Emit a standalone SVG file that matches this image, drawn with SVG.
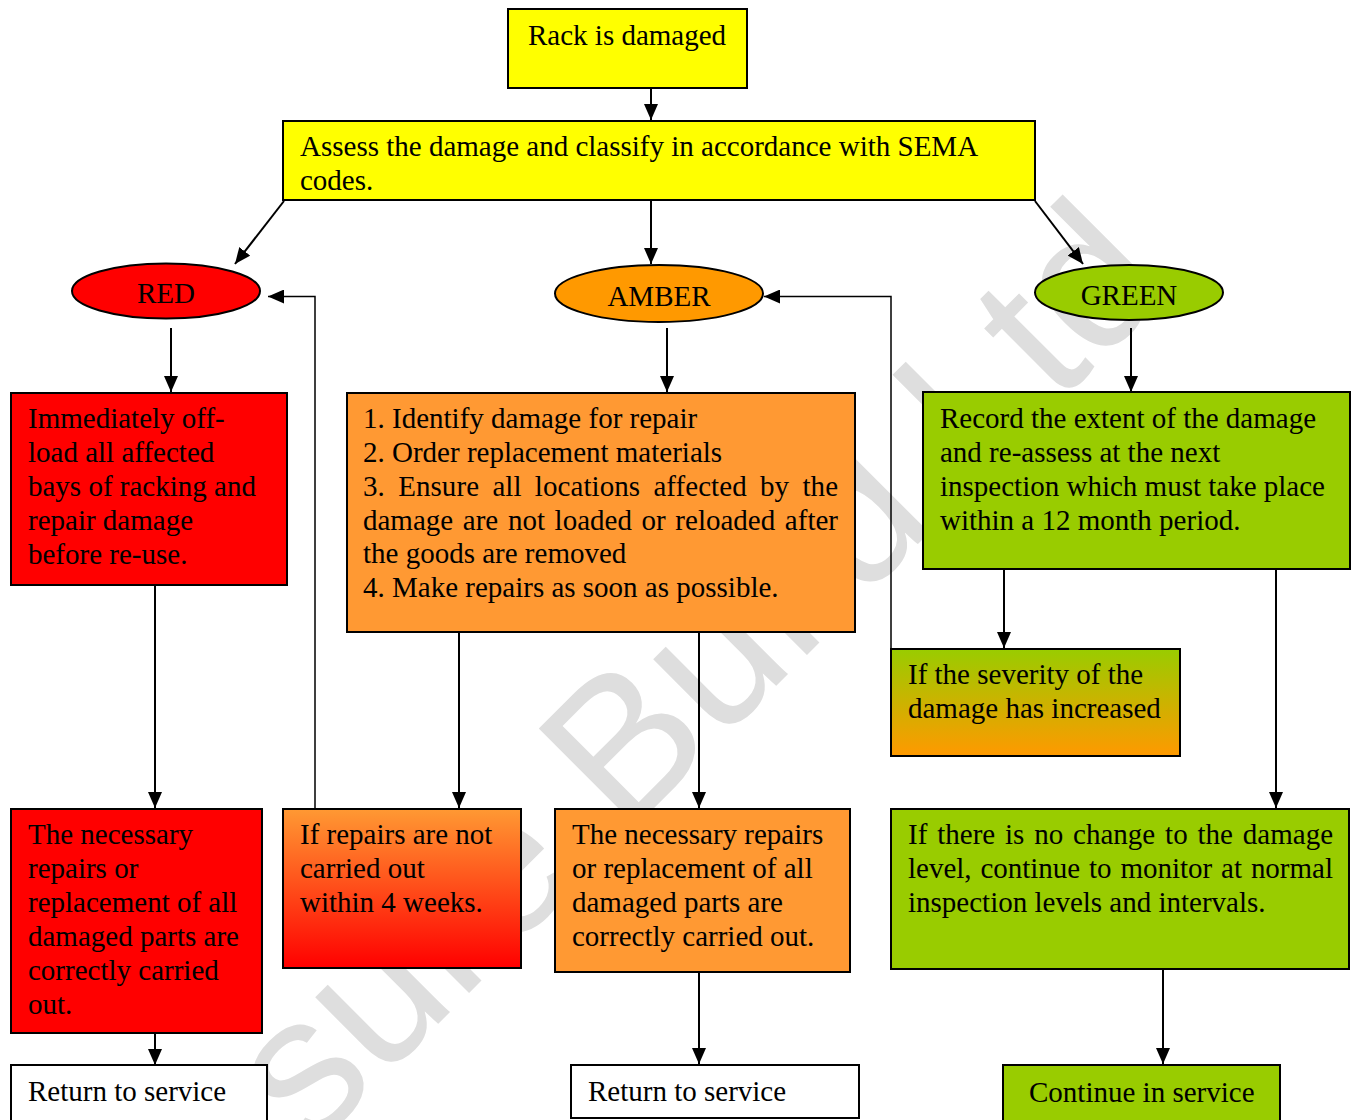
<svg xmlns="http://www.w3.org/2000/svg" width="1351" height="1120" viewBox="0 0 1351 1120">
<style>
.bg{fill:#ffffff}
.wm{font-family:"Liberation Sans",Arial,sans-serif;font-size:200px;fill:#dedede}
.box{stroke:#000;stroke-width:2}
.yel{fill:#ffff00}
.red{fill:#ff0000}
.amb{fill:#ff9933}
.ambE{fill:#ff9900}
.grn{fill:#99cc00}
.wht{fill:#ffffff}
.t{font-family:"Liberation Serif","Times New Roman",serif;font-size:29px;fill:#000}
.c{text-anchor:middle}
.ln{fill:none;stroke:#000;stroke-width:2}
.ln2{fill:none;stroke:#000;stroke-width:1.5}
</style>
<defs>
<marker id="arr" viewBox="0 0 16 14" refX="16" refY="7" markerWidth="16" markerHeight="14" markerUnits="userSpaceOnUse" orient="auto">
<path d="M0,0 L16,7 L0,14 z" fill="#000"/>
</marker>
<linearGradient id="gOR" x1="0" y1="0" x2="0" y2="1">
<stop offset="0" stop-color="#ff9933"/>
<stop offset="1" stop-color="#ff0000"/>
</linearGradient>
<linearGradient id="gGO" x1="0" y1="0" x2="0" y2="1">
<stop offset="0" stop-color="#99cc00"/>
<stop offset="1" stop-color="#ff9900"/>
</linearGradient>
</defs>
<rect class="bg" x="0" y="0" width="1351" height="1120"/>
<text class="wm" transform="translate(310,1152) rotate(-45)">sure Build Ltd</text>

<g id="connectors">
<line class="ln" x1="651" y1="88" x2="651" y2="120" marker-end="url(#arr)"/>
<line class="ln" x1="284" y1="201" x2="235" y2="264" marker-end="url(#arr)"/>
<line class="ln" x1="651" y1="200" x2="651" y2="264" marker-end="url(#arr)"/>
<line class="ln" x1="1035" y1="201" x2="1083" y2="264" marker-end="url(#arr)"/>
<line class="ln" x1="171" y1="328" x2="171" y2="392" marker-end="url(#arr)"/>
<line class="ln" x1="667" y1="328" x2="667" y2="392" marker-end="url(#arr)"/>
<line class="ln" x1="1131" y1="328" x2="1131" y2="392" marker-end="url(#arr)"/>
<line class="ln" x1="155" y1="585" x2="155" y2="808" marker-end="url(#arr)"/>
<line class="ln" x1="155" y1="1033" x2="155" y2="1065" marker-end="url(#arr)"/>
<line class="ln" x1="459" y1="632" x2="459" y2="808" marker-end="url(#arr)"/>
<line class="ln" x1="699" y1="632" x2="699" y2="808" marker-end="url(#arr)"/>
<line class="ln" x1="699" y1="972" x2="699" y2="1064" marker-end="url(#arr)"/>
<line class="ln" x1="1004" y1="569" x2="1004" y2="648" marker-end="url(#arr)"/>
<line class="ln" x1="1276" y1="569" x2="1276" y2="808" marker-end="url(#arr)"/>
<line class="ln" x1="1163" y1="969" x2="1163" y2="1064" marker-end="url(#arr)"/>
<polyline class="ln2" points="315,809 315,296.5 268,296.5" marker-end="url(#arr)"/>
<polyline class="ln2" points="891,649 891,296.5 764,296.5" marker-end="url(#arr)"/>
</g>

<g id="n-rack">
<rect class="box yel" x="508" y="9" width="239" height="79"/>
<text class="t" x="528" y="45">Rack is damaged</text>
</g>

<g id="n-assess">
<rect class="box yel" x="283" y="121" width="752" height="79"/>
<text class="t" x="300" y="156">Assess the damage and classify in accordance with SEMA</text>
<text class="t" x="300" y="190">codes.</text>
</g>

<g id="n-red">
<ellipse class="box red" cx="166" cy="291" rx="94" ry="27.5"/>
<text class="t c" x="166" y="303">RED</text>
</g>

<g id="n-amber">
<ellipse class="box ambE" cx="659" cy="293.5" rx="104" ry="28.5"/>
<text class="t c" x="659" y="306">AMBER</text>
</g>

<g id="n-green">
<ellipse class="box grn" cx="1129" cy="292.5" rx="94" ry="27.5"/>
<text class="t c" x="1129" y="305">GREEN</text>
</g>

<g id="n-red-offload">
<rect class="box red" x="11" y="393" width="276" height="192"/>
<text class="t" x="28" y="428">Immediately off-</text>
<text class="t" x="28" y="462">load all affected</text>
<text class="t" x="28" y="496">bays of racking and</text>
<text class="t" x="28" y="530">repair damage</text>
<text class="t" x="28" y="564">before re-use.</text>
</g>

<g id="n-amber-steps">
<rect class="box amb" x="347" y="393" width="508" height="239"/>
<text class="t" x="363" y="428">1. Identify damage for repair</text>
<text class="t" x="363" y="462">2. Order replacement materials</text>
<text class="t" x="363" y="496" word-spacing="6" textLength="475" lengthAdjust="spacing">3. Ensure all locations affected by the</text>
<text class="t" x="363" y="530" word-spacing="2.4" textLength="475" lengthAdjust="spacing">damage are not loaded or reloaded after</text>
<text class="t" x="363" y="563">the goods are removed</text>
<text class="t" x="363" y="597">4. Make repairs as soon as possible.</text>
</g>

<g id="n-green-record">
<rect class="box grn" x="923" y="392" width="427" height="177"/>
<text class="t" x="940" y="428">Record the extent of the damage</text>
<text class="t" x="940" y="462">and re-assess at the next</text>
<text class="t" x="940" y="496">inspection which must take place</text>
<text class="t" x="940" y="530">within a 12 month period.</text>
</g>

<g id="n-severity">
<rect class="box" fill="url(#gGO)" x="891" y="649" width="289" height="107"/>
<text class="t" x="908" y="684">If the severity of the</text>
<text class="t" x="908" y="718">damage has increased</text>
</g>

<g id="n-red-repairs">
<rect class="box red" x="11" y="809" width="251" height="224"/>
<text class="t" x="28" y="844">The necessary</text>
<text class="t" x="28" y="878">repairs or</text>
<text class="t" x="28" y="912">replacement of all</text>
<text class="t" x="28" y="946">damaged parts are</text>
<text class="t" x="28" y="980">correctly carried</text>
<text class="t" x="28" y="1014">out.</text>
</g>

<g id="n-not-repaired">
<rect class="box" fill="url(#gOR)" x="283" y="809" width="238" height="159"/>
<text class="t" x="300" y="844">If repairs are not</text>
<text class="t" x="300" y="878">carried out</text>
<text class="t" x="300" y="912">within 4 weeks.</text>
</g>

<g id="n-amber-repairs">
<rect class="box amb" x="555" y="809" width="295" height="163"/>
<text class="t" x="572" y="844">The necessary repairs</text>
<text class="t" x="572" y="878">or replacement of all</text>
<text class="t" x="572" y="912">damaged parts are</text>
<text class="t" x="572" y="946">correctly carried out.</text>
</g>

<g id="n-no-change">
<rect class="box grn" x="891" y="809" width="458" height="160"/>
<text class="t" x="908" y="844" word-spacing="2.6" textLength="425" lengthAdjust="spacing">If there is no change to the damage</text>
<text class="t" x="908" y="878" word-spacing="1.6" textLength="425" lengthAdjust="spacing">level, continue to monitor at normal</text>
<text class="t" x="908" y="912">inspection levels and intervals.</text>
</g>

<g id="n-return-red">
<rect class="box wht" x="11" y="1065" width="256" height="70"/>
<text class="t" x="28" y="1101">Return to service</text>
</g>

<g id="n-return-amber">
<rect class="box wht" x="571" y="1065" width="288" height="53"/>
<text class="t" x="588" y="1101">Return to service</text>
</g>

<g id="n-continue">
<rect class="box grn" x="1003" y="1065" width="277" height="70"/>
<text class="t" x="1029" y="1102">Continue in service</text>
</g>
</svg>
